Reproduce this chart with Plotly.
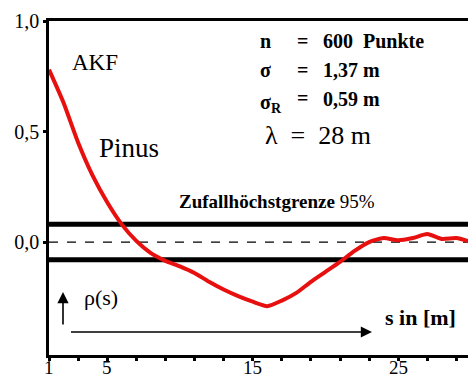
import plotly.graph_objects as go

# ---- data ----
lag_s = list(range(1, 31))
akf_rho = [0.78, 0.63, 0.45, 0.30, 0.18, 0.08, 0.005, -0.05, -0.085, -0.11,
           -0.14, -0.18, -0.215, -0.245, -0.27, -0.29, -0.265, -0.23, -0.18, -0.135,
           -0.09, -0.04, 0.0, 0.018, 0.008, 0.018, 0.036, 0.014, 0.018, 0.0]
limit_95 = 0.08
x_tickvals = list(range(1, 31, 2))
x_labelvals = [1, 5, 15, 25]
y_tickvals = [0.0, 0.5, 1.0]
y_ticklabels = ["0,0", "0,5", "1,0"]

FONT = "Liberation Serif"
W_IMG, H_IMG = 468, 379
L, T, R, B = 49, 21, 0, 24
PW, PH = W_IMG - L - R, H_IMG - T - B


def px(x):
    return (x - L) / PW


def py(y):
    return (T + PH - y) / PH


fig = go.Figure()

# confidence band lines and zero line
for yv, w, dash in [(limit_95, 5, "solid"), (-limit_95, 5, "solid"), (0.0, 1.3, "dash")]:
    fig.add_shape(type="line", xref="paper", yref="y", x0=0, x1=1, y0=yv, y1=yv,
                  line=dict(color="black", width=w, dash=dash), layer="below")

fig.add_trace(go.Scatter(x=lag_s, y=akf_rho, mode="lines",
                         line=dict(color="#e8100f", width=4, shape="spline", smoothing=0.6),
                         hoverinfo="skip", showlegend=False))


def txt(t, x, y, size, xanchor="left", bold=False):
    fig.add_annotation(text=f"<b>{t}</b>" if bold else t, xref="paper", yref="paper",
                       x=px(x), y=py(y), xanchor=xanchor, yanchor="middle",
                       showarrow=False, font=dict(family=FONT, size=size, color="black"))


txt("AKF", 95, 62, 23, "center")
txt("Pinus", 129, 148, 27, "center")
txt("n", 258, 41, 20, bold=True)
txt("=", 302, 41, 20, "center", bold=True)
txt("600  Punkte", 321, 41, 20, bold=True)
txt("σ", 258, 70, 20, bold=True)
txt("=", 302, 70, 20, "center", bold=True)
txt("1,37 m", 321, 70, 20, bold=True)
txt("σ<sub>R</sub>", 258, 103, 20, bold=True)
txt("=", 302, 98, 20, "center", bold=True)
txt("0,59 m", 321, 99, 20, bold=True)
txt("λ  =  28 m", 263, 135, 26)
txt("<b>Zufallhöchstgrenze</b> 95%", 177, 201, 19)
txt("ρ(s)", 82, 297, 22)
txt("s in [m]", 383, 317, 22, bold=True)

# x tick labels placed on the x scale
for v in x_labelvals:
    fig.add_annotation(text=str(v), xref="x", yref="paper", x=v, y=py(367),
                       xanchor="center", yanchor="middle", showarrow=False,
                       font=dict(family=FONT, size=19, color="black"))

# axis arrows
fig.add_annotation(xref="paper", yref="paper", x=px(372), y=py(332), ax=-304, ay=0,
                   showarrow=True, arrowhead=2, arrowsize=1.4, arrowwidth=1.6,
                   arrowcolor="black", text=" ")
fig.add_annotation(xref="paper", yref="paper", x=px(63), y=py(292), ax=0, ay=41,
                   showarrow=True, arrowhead=2, arrowsize=1.4, arrowwidth=1.6,
                   arrowcolor="black", text=" ")

fig.update_layout(
    width=W_IMG, height=H_IMG,
    margin=dict(l=L, r=R, t=T, b=B),
    paper_bgcolor="white", plot_bgcolor="white",
    font=dict(family=FONT, color="black"),
    showlegend=False,
    xaxis=dict(range=[1, 1 + PW / 14.55], tickvals=x_tickvals,
               ticktext=[""] * len(x_tickvals),
               showline=True, linecolor="black", linewidth=2.5, mirror=True,
               ticks="outside", ticklen=3, tickwidth=3, tickcolor="black",
               showgrid=False, zeroline=False, fixedrange=True),
    yaxis=dict(range=[-0.511, 1.0], tickvals=y_tickvals, ticktext=y_ticklabels,
               showline=True, linecolor="black", linewidth=2.5,
               ticks="outside", ticklen=3, tickwidth=3, tickcolor="black",
               showgrid=False, zeroline=False, fixedrange=True,
               tickfont=dict(family=FONT, size=20, color="black")),
)

post = "document.body.style.margin='0';document.body.style.padding='0';"
fig.write_html("out.html", config=dict(displayModeBar=False), post_script=post)
